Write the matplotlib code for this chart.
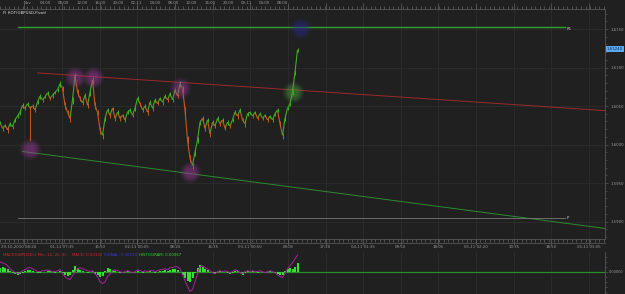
import numpy as np
import matplotlib
matplotlib.use("Agg")
import matplotlib.pyplot as plt
import matplotlib.transforms as mtransforms
from matplotlib.collections import LineCollection
from matplotlib.lines import Line2D

# GBPUSD closes, one value per bar
closes = [1.6029, 1.6021, 1.6025, 1.6019, 1.6027, 1.6023, 1.6032, 1.6037, 1.6042, 1.6051,
          1.6047, 1.6053, 1.6047, 1.6050, 1.6045, 1.6055, 1.6063, 1.6058, 1.6062, 1.6067,
          1.6060, 1.6064, 1.6068, 1.6071, 1.6079, 1.6073, 1.6051, 1.6042, 1.6034, 1.6058,
          1.6089, 1.6068, 1.6060, 1.6054, 1.6064, 1.6051, 1.6068, 1.6084, 1.6051, 1.6042,
          1.6019, 1.6012, 1.6034, 1.6045, 1.6038, 1.6047, 1.6034, 1.6042, 1.6034, 1.6038,
          1.6032, 1.6042, 1.6045, 1.6038, 1.6047, 1.6060, 1.6053, 1.6045, 1.6050, 1.6042,
          1.6055, 1.6047, 1.6058, 1.6053, 1.6060, 1.6055, 1.6063, 1.6058, 1.6066, 1.6058,
          1.6071, 1.6063, 1.6079, 1.6073, 1.6045, 1.6006, 1.5982, 1.5973, 1.5990, 1.6006,
          1.6029, 1.6034, 1.6021, 1.6032, 1.6014, 1.6029, 1.6024, 1.6034, 1.6027, 1.6032,
          1.6021, 1.6029, 1.6024, 1.6032, 1.6042, 1.6037, 1.6045, 1.6032, 1.6027, 1.6040,
          1.6042, 1.6037, 1.6042, 1.6034, 1.6040, 1.6034, 1.6038, 1.6032, 1.6037, 1.6032,
          1.6040, 1.6045, 1.6027, 1.6012, 1.6034, 1.6047, 1.6053, 1.6068, 1.6094, 1.6123]
# high-low range of each bar, in pips
bar_range = [4, 6, 5, 7, 5, 6, 4, 5, 6, 7,
             5, 6, 7, 5, 6, 5, 6, 5, 4, 6,
             5, 6, 4, 5, 7, 6, 8, 7, 8, 9,
             10, 8, 7, 6, 7, 6, 8, 9, 8, 7,
             9, 8, 7, 6, 7, 5, 6, 5, 6, 5,
             6, 5, 4, 5, 6, 7, 5, 6, 5, 6,
             5, 6, 5, 4, 5, 6, 5, 6, 5, 6,
             6, 5, 7, 8, 9, 10, 9, 8, 9, 8,
             7, 6, 7, 6, 8, 6, 5, 6, 5, 6,
             5, 6, 5, 4, 5, 6, 5, 6, 7, 5,
             4, 5, 4, 5, 4, 5, 4, 5, 4, 5,
             5, 6, 7, 8, 6, 5, 6, 7, 6, 5]
wick_bar = [12]
wick_low = [1.6006]

# MACD panel, values in 1e-5
macd_e5 = [80, 71, 63, 48, 25, 9, -7, -15, -8, 7,
           16, 31, 33, 24, 15, 1, 0, 8, 9, 15,
           8, 1, 0, 7, 16, -15, -41, -55, -63, -32,
           0, 24, 31, 25, 16, 8, 1, 7, -16, -40,
           -79, -95, -81, -40, -17, 8, 15, 9, 0, -7,
           1, 8, 0, -8, 1, 15, 8, 0, 7, 1,
           8, 9, 0, 8, 15, 17, 24, 16, 31, 33,
           40, 39, 24, -23, -72, -119, -158, -143, -81, -15,
           39, 47, 33, 23, 8, -7, -16, 1, 8, 0,
           7, 1, -8, 0, 16, 8, -7, -16, 0, 8,
           1, 8, 0, 1, 7, 0, -8, 1, 8, 0,
           -7, -24, -40, -47, -15, 24, 47, 72, 103, 132]
hist_e5 = [32, 40, 31, 24, 8, -8, -15, -24, -16, -8,
           8, 16, 15, 8, 1, -8, -7, 0, 1, 8,
           9, 0, -8, 0, 8, -8, -24, -31, -24, 16,
           47, 32, 16, 8, 0, -8, 0, 8, -16, -24,
           -40, -32, 8, 31, 24, 16, 8, 0, -8, -7,
           0, 8, 0, -8, 0, 8, 0, -7, 0, 1,
           8, 0, -8, 0, 8, 9, 16, 8, 15, 24,
           23, 16, 0, -24, -47, -72, -80, -48, -8, 32,
           56, 40, 24, 15, 0, -8, -16, 0, 8, 0,
           1, -8, -16, -8, 8, 7, -8, -24, -8, 8,
           0, 8, 0, -8, 0, 1, -8, 0, 8, 0,
           -8, -16, -24, -23, 8, 24, 32, 24, 40, 67]

# pivot / trend lines
res_bars, res_px = [15, 242], [1.6093, 1.6044]
sup_bars, sup_px = [9, 242], [1.5991, 1.5891]
r1_bars, r1_level = [7, 226], 1.6153
p_bars, p_level = [7, 226], 1.5904

touch_bars = [12, 30, 37, 72, 76]
touch_px = [1.5994, 1.6088, 1.6088, 1.6073, 1.5964]
break_bar, break_px = 117, 1.6068
last_bar, last_px = 120, 1.6151

bottom_labels = ["29-10-2010 08:20", "01-11 07:35", "15:50", "02-11 00:05", "08:20", "16:35",
                 "03-11 00:50", "09:05", "17:20", "04-11 01:35", "09:50", "18:05",
                 "05-11 02:20", "10:35", "18:50", "06-11 03:05"]
top_labels = ["Nov", "04:00", "08:00", "12:00", "16:00", "20:00", "02-11", "04:00",
              "08:00", "12:00", "16:00", "20:00", "03-11", "04:00", "08:00"]

BG = "#202020"
GRID = "#2d2d2d"
TXT = "#9a9a9a"
UP = "#3fae22"
DOWN = "#c8581c"
FS = 2.8
W, H = 625, 294
XMAX = 242


def glow(ax, x, y, color):
    for s, a in [(240, 0.09), (170, 0.14), (110, 0.20), (50, 0.20)]:
        ax.scatter([x], [y], s=s, color=color, alpha=a, linewidths=0, zorder=6)


fig = plt.figure(figsize=(W / 100, H / 100), dpi=100, facecolor=BG)
ax = fig.add_axes([0, 1 - 239 / H, 605 / W, 230 / H], facecolor=BG)
axm = fig.add_axes([0, 0, 605 / W, 42 / H], facecolor=BG, sharex=ax)

major = 9.76 + 15.056 * np.arange(len(bottom_labels))
top_pos = 10.8 + 7.31 * np.arange(len(top_labels))
minor = np.arange(0.0, XMAX, 1.83)

# --- price panel
x = np.arange(len(closes))
c = np.array(closes)
r = np.array(bar_range) * 1e-4
pts = np.column_stack([x, c])
segs = np.stack([pts[:-1], pts[1:]], axis=1)
cols = [UP if closes[i + 1] >= closes[i] else DOWN for i in range(len(closes) - 1)]
ax.add_collection(LineCollection(segs, colors=cols, linewidths=0.8, zorder=4))
bar_cols = [UP] + cols
ax.vlines(x, c - 0.55 * r, c + 0.45 * r, colors=bar_cols, linewidths=0.7, zorder=4)
for b, lo in zip(wick_bar, wick_low):
    ax.plot([b, b], [closes[b], lo], color=DOWN, lw=0.7, zorder=4)

ax.plot(res_bars, res_px, color="#9c2a2a", lw=0.7, zorder=3)
ax.plot(sup_bars, sup_px, color="#2f8a2f", lw=0.7, zorder=3)
ax.plot(r1_bars, [r1_level] * 2, color="#2fa02f", lw=1.0, zorder=3)
ax.plot(p_bars, [p_level] * 2, color="#7a7a7a", lw=0.6, zorder=3)
ax.text(r1_bars[1] + 0.6, r1_level, "R1", color="#cccccc", fontsize=FS, va="top", ha="left")
ax.text(p_bars[1] + 0.6, p_level, "P", color="#cccccc", fontsize=FS, va="center", ha="left")

for b, p in zip(touch_bars, touch_px):
    glow(ax, b, p, "#a03aa0")
glow(ax, break_bar, break_px, "#4aa83a")
glow(ax, last_bar, last_px, "#2c2c9a")

ax.set_xlim(0, XMAX)
ax.set_ylim(1.58773, 1.61760)
ax.set_xticks(major)
ax.set_xticks(minor, minor=True)
ax.set_xticklabels([])
ax.set_yticks(np.arange(1.590, 1.6151, 0.005))
ax.set_yticks(np.arange(1.588, 1.6176, 0.001), minor=True)
ax.yaxis.tick_right()
ax.yaxis.set_major_formatter(plt.FormatStrFormatter("%.4f"))
ax.tick_params(axis="y", which="both", colors="#555555", labelcolor=TXT, labelsize=FS,
               direction="out", length=2.5, width=0.5, pad=1.2)
ax.tick_params(axis="y", which="minor", length=1.5)
ax.tick_params(axis="x", which="both", colors="#666666", direction="out", length=4, width=0.5,
               top=True, bottom=True)
ax.tick_params(axis="x", which="minor", length=2)
ax.grid(True, which="major", color=GRID, lw=0.6)
ax.spines["left"].set_visible(False)
for side in ["top", "right", "bottom"]:
    ax.spines[side].set_color("#555555")
    ax.spines[side].set_linewidth(0.6)

ax.text(3 / 605, 1 - 4 / 230, "FI HOT(GBPUSD,Pivot)", transform=ax.transAxes,
        color="#dddddd", fontsize=FS, va="center", ha="left")
ax.text(1.003, (1.6124 - 1.58773) / (1.61760 - 1.58773), "1.61240", transform=ax.transAxes,
        color="#0c2a4a", fontsize=FS, va="center", ha="left", zorder=10,
        bbox=dict(boxstyle="square,pad=0.25", fc="#5aa8ee", ec="none"))

bt = mtransforms.blended_transform_factory(ax.transData, fig.transFigure)
for i, (pos, lab) in enumerate(zip(major, bottom_labels)):
    if i == 0:
        fig.text(0.001, 1 - 247 / H, lab, color=TXT, fontsize=FS, ha="left", va="center")
    else:
        ax.text(pos, 1 - 247 / H, lab, transform=bt, color=TXT, fontsize=FS,
                ha="center", va="center")
for pos, lab in zip(top_pos, top_labels):
    ax.text(pos, 1 - 3 / H, lab, transform=bt, color=TXT, fontsize=FS, ha="center", va="center")
fig.add_artist(Line2D([0, 605 / W], [1 - 243 / H] * 2, color="#555555", lw=0.6))

# --- MACD panel
macd = np.array(macd_e5) * 1e-5
hist = np.array(hist_e5) * 1e-5
axm.bar(x, hist, width=0.8, color="#33e033", linewidth=0, zorder=3)
axm.axhline(0, color="#2f8a2f", lw=0.9, zorder=2)
axm.plot(x, macd, color="#a5249c", lw=0.7, zorder=4)
axm.set_ylim(-0.001784, 0.001576)
axm.set_xlim(0, XMAX)
axm.set_yticks([0])
axm.set_yticks(np.arange(-0.0016, 0.0016, 0.0004), minor=True)
axm.yaxis.tick_right()
axm.set_yticklabels(["0.00000"])
axm.tick_params(axis="y", which="both", colors="#555555", labelcolor=TXT, labelsize=2.5,
                direction="out", length=2, width=0.5, pad=0.8)
axm.tick_params(axis="y", which="minor", length=1.5)
axm.tick_params(axis="x", which="both", length=0, labelbottom=False)
axm.grid(True, which="major", axis="x", color=GRID, lw=0.6)
for side in ["left", "top", "bottom"]:
    axm.spines[side].set_visible(False)
axm.spines["right"].set_color("#555555")
axm.spines["right"].set_linewidth(0.6)

parts = [(3, "MACD(GBPUSD,1 Min, 12, 26, 9) -", "#c82a2a"),
         (72, "MACD: 0.00132", "#c82a2a"),
         (104, "SIGNAL: 0.00120", "#3a3ad0"),
         (139, "HISTOGRAM: 0.00067", "#3ad03a")]
for px, s, col in parts:
    fig.text(px / W, 1 - 255 / H, s, color=col, fontsize=FS, ha="left", va="center")

fig.savefig("out.png", dpi=100, facecolor=BG)
